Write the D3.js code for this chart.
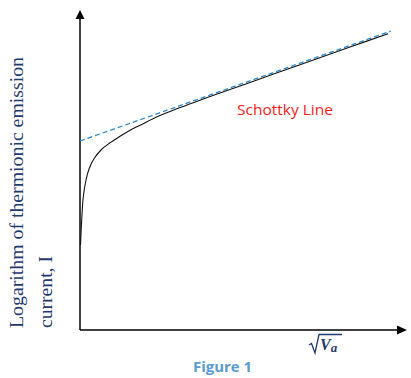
<!DOCTYPE html>
<html>
<head>
<meta charset="utf-8">
<script src="https://cdn.jsdelivr.net/npm/d3@7"></script>
<style>
  body { margin: 0; background: #fff; }
</style>
</head>
<body>
<div id="main"></div>
<script>
// curve values (arbitrary units: sqrt(Va), log I)
const curveX = [0.5, 1.7, 3.3, 6, 9.3, 14.3, 21, 29.3, 39.3, 49.3, 62.7, 76, 86, 120, 170, 220, 270, 308];
const curveY = [85, 110, 133.3, 150, 161.7, 171.7, 180, 186.7, 193.3, 199.3, 206, 212.7, 217, 229.8, 247.5, 265.3, 283, 296.3];
// Schottky straight line (two end points)
const lineX = [0, 311];
const lineY = [189, 299];

const yLabel = ["Logarithm of thermionic emission", "current, I"];
const lineLabel = "Schottky Line";
const caption = "Figure 1";

class Chart {
  constructor(config) {
    this.config = config;
    this.svg = d3.select(config.div).append("svg")
      .attr("width", config.width)
      .attr("height", config.height);
    this.x = d3.scaleLinear().domain([0, 326]).range([80, 406]);
    this.y = d3.scaleLinear().domain([0, 320]).range([330, 10]);
  }

  renderAxes() {
    const g = this.svg.append("g");
    const x0 = this.x(0), y0 = this.y(0);
    g.append("line").attr("x1", x0).attr("y1", y0).attr("x2", x0).attr("y2", 18)
      .attr("stroke", "#000").attr("stroke-width", 1.5);
    g.append("line").attr("x1", x0).attr("y1", y0).attr("x2", 398).attr("y2", y0)
      .attr("stroke", "#000").attr("stroke-width", 1.5);
    g.append("path").attr("d", `M${x0},10 L${x0 - 4.5},19 L${x0 + 4.5},19 Z`).attr("fill", "#000");
    g.append("path").attr("d", `M407,${y0} L397,${y0 - 4.5} L397,${y0 + 4.5} Z`).attr("fill", "#000");
  }

  renderLines() {
    const pts = curveX.map((v, i) => [v, curveY[i]]);
    const line = d3.line().x(d => this.x(d[0])).y(d => this.y(d[1]));
    this.svg.append("path")
      .attr("d", line.curve(d3.curveCatmullRom.alpha(0.5))(pts))
      .attr("fill", "none").attr("stroke", "#111").attr("stroke-width", 1.1);

    const sPts = lineX.map((v, i) => [v, lineY[i]]);
    this.svg.append("path")
      .attr("d", d3.line().x(d => this.x(d[0])).y(d => this.y(d[1]))(sPts))
      .attr("fill", "none").attr("stroke", "#2E86C8").attr("stroke-width", 1.3)
      .attr("stroke-dasharray", "5,3");
  }

  renderText() {
    const navy = "#1F3A6E";
    this.svg.append("text")
      .attr("transform", "translate(23,328) rotate(-90)")
      .attr("font-family", "Liberation Serif, serif").attr("font-size", 19)
      .attr("textLength", 271).attr("lengthAdjust", "spacingAndGlyphs")
      .attr("fill", navy).text(yLabel[0]);
    this.svg.append("text")
      .attr("transform", "translate(52,328) rotate(-90)")
      .attr("font-family", "Liberation Serif, serif").attr("font-size", 19)
      .attr("textLength", 72).attr("lengthAdjust", "spacingAndGlyphs")
      .attr("fill", navy).text(yLabel[1]);

    this.svg.append("text")
      .attr("x", 237).attr("y", 115)
      .attr("font-family", "Open Sans, sans-serif").attr("font-size", 15)
      .attr("textLength", 96).attr("lengthAdjust", "spacingAndGlyphs")
      .attr("fill", "#FF1A1A").text(lineLabel);

    this.svg.append("text")
      .attr("x", 193).attr("y", 372)
      .attr("font-family", "Open Sans, sans-serif").attr("font-size", 14).attr("font-weight", "bold")
      .attr("textLength", 59).attr("lengthAdjust", "spacingAndGlyphs")
      .attr("fill", "#5B9BD5").text(caption);

    // sqrt(Va)
    const s = this.svg.append("g");
    s.append("path")
      .attr("d", "M309,345 L311.5,343.5 L315,353 L319,334.5 L342,334.5")
      .attr("fill", "none").attr("stroke", navy).attr("stroke-width", 1.3);
    const t = s.append("text").attr("x", 320).attr("y", 350)
      .attr("font-family", "Liberation Serif, serif").attr("fill", navy);
    t.append("tspan").attr("font-size", 16).attr("font-weight", "bold").attr("font-style", "italic").text("V");
    t.append("tspan").attr("font-size", 13).attr("font-style", "italic").attr("font-weight", "bold").attr("dy", 2).text("a");
  }
}

const c = new Chart({div: "#main", width: 411, height: 378});
c.renderAxes();
c.renderLines();
c.renderText();
</script>
</body>
</html>
